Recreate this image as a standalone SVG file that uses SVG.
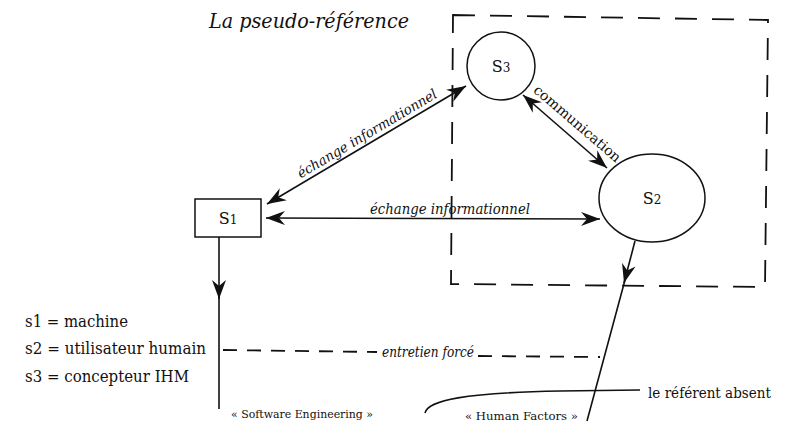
<svg xmlns="http://www.w3.org/2000/svg" width="787" height="425" viewBox="0 0 787 425">
<style>
.ln{stroke:#111;stroke-width:1.6;fill:none}
.dash{stroke:#111;stroke-width:1.8;fill:none;stroke-dasharray:22 15}
.dash2{stroke:#111;stroke-width:1.8;fill:none;stroke-dasharray:14 10}
.node{stroke:#111;stroke-width:1.5;fill:#fff}
.t{font-family:"DejaVu Serif","Liberation Serif","Noto Serif",Times,serif;fill:#111}
.it{font-style:italic}
.lbl{font-size:14px}
.nd{font-size:16px;text-anchor:middle}
.sub{font-size:12px}
.leg{font-size:17px}
.sm{font-size:11px}
</style>
<defs>
<marker id="ah" viewBox="0 0 19 14" refX="19" refY="7" markerWidth="19" markerHeight="14" markerUnits="userSpaceOnUse" orient="auto-start-reverse">
<path d="M0,0 L19,7 L0,14 L6,7 z" fill="#111"/>
</marker>
</defs>
<rect width="787" height="425" fill="#fff"/>
<text class="t it" x="209" y="28" font-size="20" textLength="200" lengthAdjust="spacingAndGlyphs">La pseudo-référence</text>
<path class="dash" d="M453,15 L768,20 L765,287 L451,284 Z"/>
<g id="connectors">
<line class="ln" x1="267" y1="204" x2="466" y2="86" marker-start="url(#ah)" marker-end="url(#ah)"/>
<line class="ln" x1="266" y1="218" x2="600" y2="219" marker-start="url(#ah)" marker-end="url(#ah)"/>
<line class="ln" x1="523" y1="95" x2="607" y2="168" marker-start="url(#ah)" marker-end="url(#ah)"/>
<line class="ln" x1="219" y1="237" x2="219" y2="299" marker-end="url(#ah)"/>
<line class="ln" x1="219" y1="296" x2="219" y2="409"/>
<line class="ln" x1="635" y1="241" x2="624" y2="283" marker-end="url(#ah)"/>
<line class="ln" x1="625" y1="280" x2="587" y2="421"/>
<path class="dash2" d="M223,350 L377,352"/>
<path class="dash2" d="M478,356 L600,357"/>
<path class="ln" d="M425,413 C428,400 465,393 560,391 L640,390"/>
<text class="t it lbl" transform="translate(372,142) rotate(-30.7)" x="0" y="-5" text-anchor="middle" textLength="160" lengthAdjust="spacingAndGlyphs">échange informationnel</text>
<text class="t it lbl" x="450" y="214" text-anchor="middle" textLength="160" lengthAdjust="spacingAndGlyphs">échange informationnel</text>
<text class="t lbl" transform="translate(571,131) rotate(40.6)" x="0" y="-5" text-anchor="middle" textLength="110" lengthAdjust="spacingAndGlyphs">communication</text>
<text class="t it lbl" x="428" y="357" text-anchor="middle" textLength="92" lengthAdjust="spacingAndGlyphs">entretien forcé</text>
</g>
<g id="s1">
<rect class="node" x="195" y="199" width="66" height="38"/>
<text class="t nd" x="228" y="224">S<tspan class="sub">1</tspan></text>
</g>
<g id="s2">
<ellipse class="node" cx="652" cy="198" rx="53" ry="44"/>
<text class="t nd" x="652" y="204">S<tspan class="sub">2</tspan></text>
</g>
<g id="s3">
<circle class="node" cx="501" cy="66" r="34"/>
<text class="t nd" x="501" y="72">S<tspan class="sub">3</tspan></text>
</g>
<g id="legend">
<text class="t leg" x="25" y="327" textLength="103" lengthAdjust="spacingAndGlyphs">s1 = machine</text>
<text class="t leg" x="25" y="354" textLength="181" lengthAdjust="spacingAndGlyphs">s2 = utilisateur humain</text>
<text class="t leg" x="25" y="382" textLength="164" lengthAdjust="spacingAndGlyphs">s3 = concepteur IHM</text>
</g>
<text class="t sm" x="231" y="418" textLength="142" lengthAdjust="spacingAndGlyphs">« Software Engineering »</text>
<text class="t sm" x="465" y="420" textLength="113" lengthAdjust="spacingAndGlyphs">« Human Factors »</text>
<text class="t lbl" x="648" y="398" font-size="15" textLength="123" lengthAdjust="spacingAndGlyphs">le référent absent</text>
</svg>
